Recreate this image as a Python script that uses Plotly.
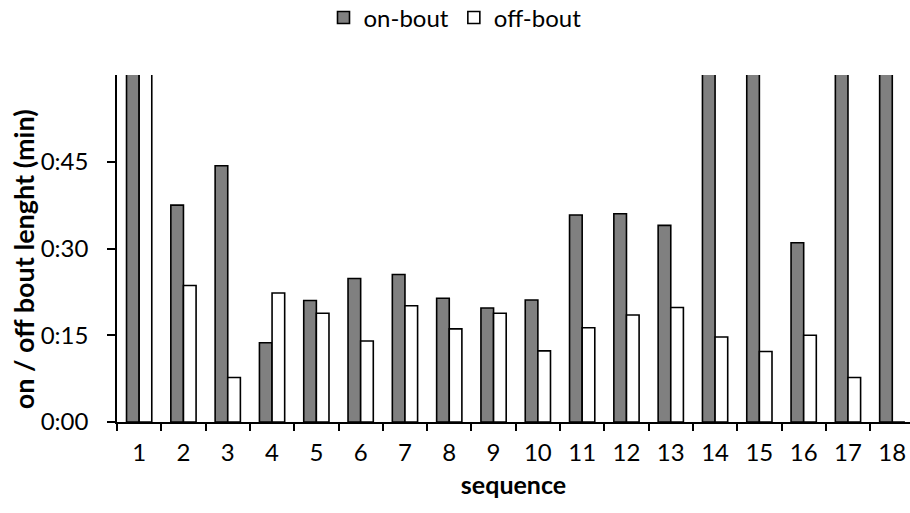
import plotly.graph_objects as go

# Bout sequence number
sequence = [str(i) for i in range(1, 19)]

# Bout lengths in minutes (values above 60 run off the top of the axis)
on_bout = [80, 37.5, 44.3, 13.7, 21.0, 24.8, 25.5, 21.4, 19.7, 21.1,
           35.8, 36.0, 34.0, 65, 70, 31.0, 75, 90]
off_bout = [70, 23.6, 7.7, 22.3, 18.8, 14.0, 20.1, 16.1, 18.8, 12.3,
            16.3, 18.5, 19.8, 14.7, 12.2, 15.0, 7.7, 0]

y_ticks = [0, 15, 30, 45]
y_tick_labels = ["0:00", "0:15", "0:30", "0:45"]

FONT = "Lato"
SIZE = 24

fig = go.Figure()
fig.add_trace(go.Bar(
    x=sequence, y=on_bout, name="on-bout",
    marker=dict(color="#808080", line=dict(color="black", width=1.6)),
))
fig.add_trace(go.Bar(
    x=sequence, y=off_bout, name="off-bout",
    marker=dict(color="white", line=dict(color="black", width=1.6)),
))

fig.update_layout(
    width=910, height=513,
    margin=dict(l=117, r=0, t=75, b=91),
    paper_bgcolor="white", plot_bgcolor="white",
    barmode="group", bargap=0.43, bargroupgap=0,
    font=dict(family=FONT, size=SIZE, color="black"),
    showlegend=True,
    legend=dict(
        orientation="h", x=0.5, xanchor="center", xref="container",
        y=0.965, yanchor="middle", yref="container",
        font=dict(family=FONT, size=SIZE),
        itemwidth=30, tracegroupgap=0,
    ),
    xaxis=dict(
        type="category", range=[-0.5, 17.4],
        showline=True, linecolor="black", linewidth=1.5,
        ticks="outside", tickson="boundaries", ticklen=7,
        tickcolor="black", tickwidth=1.5,
        showgrid=False, zeroline=False,
        ticklabelstandoff=8,
        title=dict(text="<b>sequence</b>", font=dict(family=FONT, size=SIZE + 1),
                   standoff=12),
    ),
    yaxis=dict(
        range=[0, 60], tickvals=y_ticks, ticktext=y_tick_labels,
        showline=True, linecolor="black", linewidth=1.5,
        ticks="outside", ticklen=8, tickcolor="black", tickwidth=1.5,
        showgrid=False, zeroline=False,
        ticklabelstandoff=14,
    ),
    annotations=[dict(
        text="<b>on / off bout lenght (min)</b>",
        textangle=-90, showarrow=False,
        xref="paper", yref="paper", x=-0.118, y=0.47,
        xanchor="center", yanchor="middle",
        font=dict(family=FONT, size=SIZE + 3, color="black"),
    )],
)

fig.write_html("out.html")
